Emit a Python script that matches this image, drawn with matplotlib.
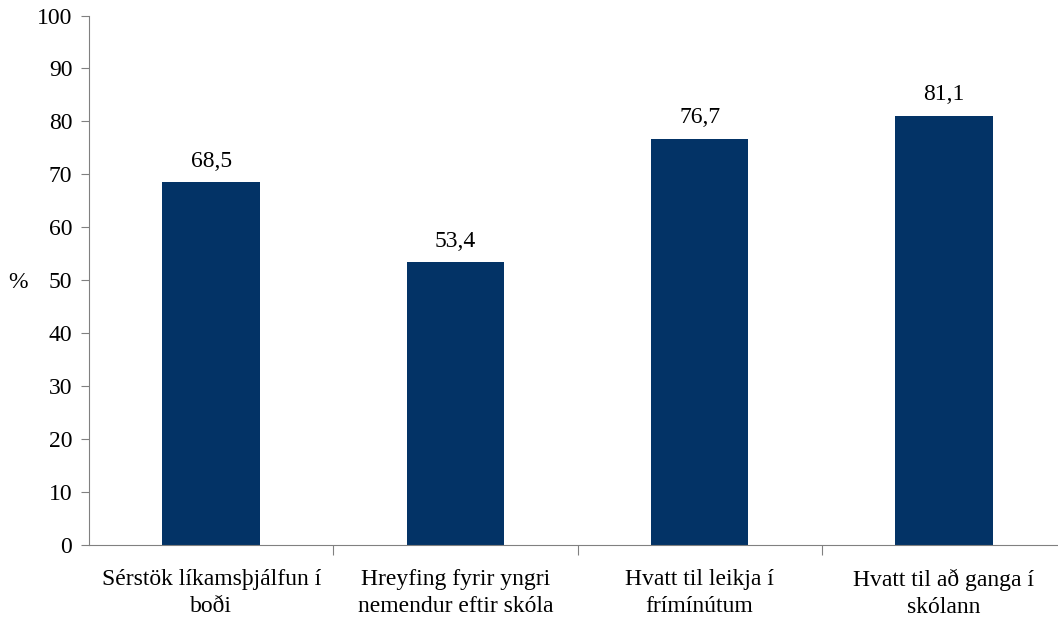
import numpy as np
import matplotlib
matplotlib.use("Agg")
import matplotlib.pyplot as plt

categories = [
    "Sérstök líkamsþjálfun í\nboði",
    "Hreyfing fyrir yngri\nnemendur eftir skóla",
    "Hvatt til leikja í\nfrímínútum",
    "Hvatt til að ganga í\nskólann",
]
values = [68.5, 53.4, 76.7, 81.1]
value_labels = ["68,5", "53,4", "76,7", "81,1"]

plt.rcParams['font.family'] = ['Liberation Serif', 'DejaVu Serif']
W, H = 1058, 621
fig = plt.figure(figsize=(W / 100, H / 100), dpi=100)
# axis runs a bit past the right edge of the picture, as in the original
ax = fig.add_axes([89 / W, 1 - 545 / H, 977 / W, 529.5 / H])

x = np.arange(len(categories))
ax.bar(x, values, width=0.4, color="#033366", zorder=2)
for xi, v, lab in zip(x, values, value_labels):
    ax.text(xi, v + 2.0, lab, ha="center", va="bottom", fontsize=17)

ax.set_xlim(-0.5, len(categories) - 0.5)
ax.set_ylim(0, 100)
ax.set_yticks(range(0, 101, 10))
ax.tick_params(axis="y", labelsize=17, length=6, color="#808080", pad=6)

# ticks sit between the categories, labels are drawn as centred text
ax.set_xticks(np.arange(0.5, len(categories) - 0.5))
ax.set_xticklabels([])
ax.tick_params(axis="x", length=7, color="#808080")
for xi, cat in zip(x, categories):
    ax.annotate(cat, xy=(xi, 0), xycoords=("data", "axes fraction"),
                xytext=(0, -17), textcoords="offset points",
                ha="center", va="top", multialignment="center",
                linespacing=1.4, fontsize=17)

for side in ["top", "right"]:
    ax.spines[side].set_visible(False)
for side in ["left", "bottom"]:
    ax.spines[side].set_color("#808080")

fig.text(18 / W, 1 - 282 / H, "%", fontsize=17, ha="center", va="center")

fig.savefig("out.png", dpi=100)
